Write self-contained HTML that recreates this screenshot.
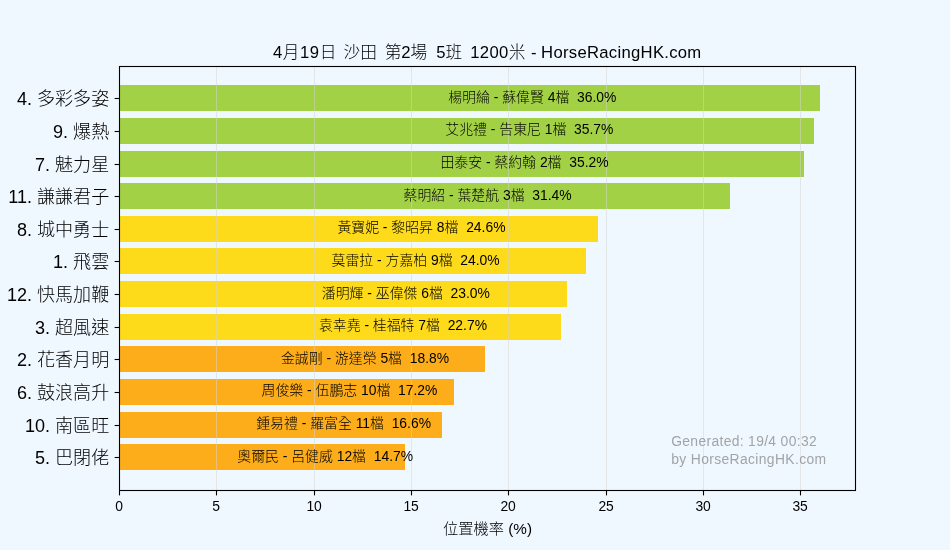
<!DOCTYPE html>
<html lang="zh-Hant"><head><meta charset="utf-8"><title>HorseRacingHK</title>
<style>html,body{margin:0;padding:0;background:#f0f8ff;}body{width:950px;height:550px;overflow:hidden;}svg{display:block;}text{font-weight:300;font-family:"Liberation Sans","Noto Sans CJK TC",sans-serif;white-space:pre;}</style></head><body>
<svg width="950" height="550" viewBox="0 0 950 550">
<rect x="0" y="0" width="950" height="550" fill="#f0f8ff"/>
<g shape-rendering="crispEdges">
<rect x="119.5" y="85" width="700.5" height="26" fill="#a3d146"/>
<rect x="119.5" y="118" width="694.5" height="26" fill="#a3d146"/>
<rect x="119.5" y="151" width="684.5" height="26" fill="#a3d146"/>
<rect x="119.5" y="183" width="610.5" height="26" fill="#a3d146"/>
<rect x="119.5" y="216" width="478.5" height="26" fill="#fdda1a"/>
<rect x="119.5" y="248" width="466.5" height="26" fill="#fdda1a"/>
<rect x="119.5" y="281" width="447.5" height="26" fill="#fdda1a"/>
<rect x="119.5" y="314" width="441.5" height="26" fill="#fdda1a"/>
<rect x="119.5" y="346" width="365.5" height="26" fill="#fdad1a"/>
<rect x="119.5" y="379" width="334.5" height="26" fill="#fdad1a"/>
<rect x="119.5" y="412" width="322.5" height="26" fill="#fdad1a"/>
<rect x="119.5" y="444" width="285.5" height="26" fill="#fdad1a"/>
</g>
<g stroke="#d3d3d3" stroke-opacity="0.5" stroke-width="1">
<line x1="119.5" y1="66.5" x2="119.5" y2="490.5"/>
<line x1="216.5" y1="66.5" x2="216.5" y2="490.5"/>
<line x1="314.5" y1="66.5" x2="314.5" y2="490.5"/>
<line x1="411.5" y1="66.5" x2="411.5" y2="490.5"/>
<line x1="508.5" y1="66.5" x2="508.5" y2="490.5"/>
<line x1="606.5" y1="66.5" x2="606.5" y2="490.5"/>
<line x1="703.5" y1="66.5" x2="703.5" y2="490.5"/>
<line x1="800.5" y1="66.5" x2="800.5" y2="490.5"/>
</g>
<g font-size="13.89" text-anchor="middle" fill="#000">
<text x="532.30" y="101.81" xml:space="preserve">楊明綸 - 蘇偉賢 4檔  36.0%</text>
<text x="529.38" y="134.44" xml:space="preserve">艾兆禮 - 告東尼 1檔  35.7%</text>
<text x="524.52" y="167.06" xml:space="preserve">田泰安 - 蔡約翰 2檔  35.2%</text>
<text x="487.56" y="199.69" xml:space="preserve">蔡明紹 - 葉楚航 3檔  31.4%</text>
<text x="421.44" y="232.31" xml:space="preserve">黃寶妮 - 黎昭昇 8檔  24.6%</text>
<text x="415.60" y="264.94" xml:space="preserve">莫雷拉 - 方嘉柏 9檔  24.0%</text>
<text x="405.88" y="297.56" xml:space="preserve">潘明輝 - 巫偉傑 6檔  23.0%</text>
<text x="402.96" y="330.19" xml:space="preserve">袁幸堯 - 桂福特 7檔  22.7%</text>
<text x="365.03" y="362.81" xml:space="preserve">金誠剛 - 游達榮 5檔  18.8%</text>
<text x="349.47" y="395.44" xml:space="preserve">周俊樂 - 伍鵬志 10檔  17.2%</text>
<text x="343.63" y="428.06" xml:space="preserve">鍾易禮 - 羅富全 11檔  16.6%</text>
<text x="325.16" y="460.69" xml:space="preserve">奧爾民 - 呂健威 12檔  14.7%</text>
</g>
<rect x="119.5" y="66.5" width="736.0" height="424.0" fill="none" stroke="#000" stroke-width="1.1"/>
<g stroke="#000" stroke-width="1.1">
<line x1="119.5" y1="490.5" x2="119.5" y2="495.4"/>
<line x1="216.5" y1="490.5" x2="216.5" y2="495.4"/>
<line x1="314.5" y1="490.5" x2="314.5" y2="495.4"/>
<line x1="411.5" y1="490.5" x2="411.5" y2="495.4"/>
<line x1="508.5" y1="490.5" x2="508.5" y2="495.4"/>
<line x1="606.5" y1="490.5" x2="606.5" y2="495.4"/>
<line x1="703.5" y1="490.5" x2="703.5" y2="495.4"/>
<line x1="800.5" y1="490.5" x2="800.5" y2="495.4"/>
<line x1="114.6" y1="98.5" x2="119.5" y2="98.5"/>
<line x1="114.6" y1="131.5" x2="119.5" y2="131.5"/>
<line x1="114.6" y1="164.5" x2="119.5" y2="164.5"/>
<line x1="114.6" y1="196.5" x2="119.5" y2="196.5"/>
<line x1="114.6" y1="229.5" x2="119.5" y2="229.5"/>
<line x1="114.6" y1="261.5" x2="119.5" y2="261.5"/>
<line x1="114.6" y1="294.5" x2="119.5" y2="294.5"/>
<line x1="114.6" y1="327.5" x2="119.5" y2="327.5"/>
<line x1="114.6" y1="359.5" x2="119.5" y2="359.5"/>
<line x1="114.6" y1="392.5" x2="119.5" y2="392.5"/>
<line x1="114.6" y1="425.5" x2="119.5" y2="425.5"/>
<line x1="114.6" y1="457.5" x2="119.5" y2="457.5"/>
</g>
<g font-size="13.89" text-anchor="middle" fill="#000">
<text x="119.1" y="510.8">0</text>
<text x="216.1" y="510.8">5</text>
<text x="314.1" y="510.8">10</text>
<text x="411.1" y="510.8">15</text>
<text x="508.1" y="510.8">20</text>
<text x="606.1" y="510.8">25</text>
<text x="703.1" y="510.8">30</text>
<text x="800.1" y="510.8">35</text>
</g>
<g font-size="18.06" text-anchor="end" fill="#000">
<text x="109.2" y="105.31" xml:space="preserve">4. 多彩多姿</text>
<text x="109.2" y="137.94" xml:space="preserve">9. 爆熱</text>
<text x="109.2" y="170.56" xml:space="preserve">7. 魅力星</text>
<text x="109.2" y="203.19" xml:space="preserve">11. 謙謙君子</text>
<text x="109.2" y="235.81" xml:space="preserve">8. 城中勇士</text>
<text x="109.2" y="268.44" xml:space="preserve">1. 飛雲</text>
<text x="109.2" y="301.06" xml:space="preserve">12. 快馬加鞭</text>
<text x="109.2" y="333.69" xml:space="preserve">3. 超風速</text>
<text x="109.2" y="366.31" xml:space="preserve">2. 花香月明</text>
<text x="109.2" y="398.94" xml:space="preserve">6. 鼓浪高升</text>
<text x="109.2" y="431.56" xml:space="preserve">10. 南區旺</text>
<text x="109.2" y="464.19" xml:space="preserve">5. 巴閉佬</text>
</g>
<text y="57.5" font-size="16.67" fill="#000" xml:space="preserve"><tspan x="272.9" letter-spacing="0.6">4月19日  </tspan><tspan x="343.6" letter-spacing="0">沙田  </tspan><tspan x="384.7" letter-spacing="0">第2場  </tspan><tspan x="436.3" letter-spacing="0">5班  </tspan><tspan x="470.2" letter-spacing="0.37">1200米 </tspan><tspan x="531.0" letter-spacing="0">- </tspan><tspan x="541.1" letter-spacing="0.29">HorseRacingHK.com</tspan></text>
<text x="487.5" y="534" font-size="15.28" text-anchor="middle" fill="#000" xml:space="preserve">位置機率 (%)</text>
<g font-size="13.89" fill="#808080" fill-opacity="0.7">
<text x="671.2" y="445.6" letter-spacing="0.33" xml:space="preserve">Generated: 19/4 00:32</text>
<text x="671.2" y="463.8" letter-spacing="0.36" xml:space="preserve">by HorseRacingHK.com</text>
</g>
</svg></body></html>
